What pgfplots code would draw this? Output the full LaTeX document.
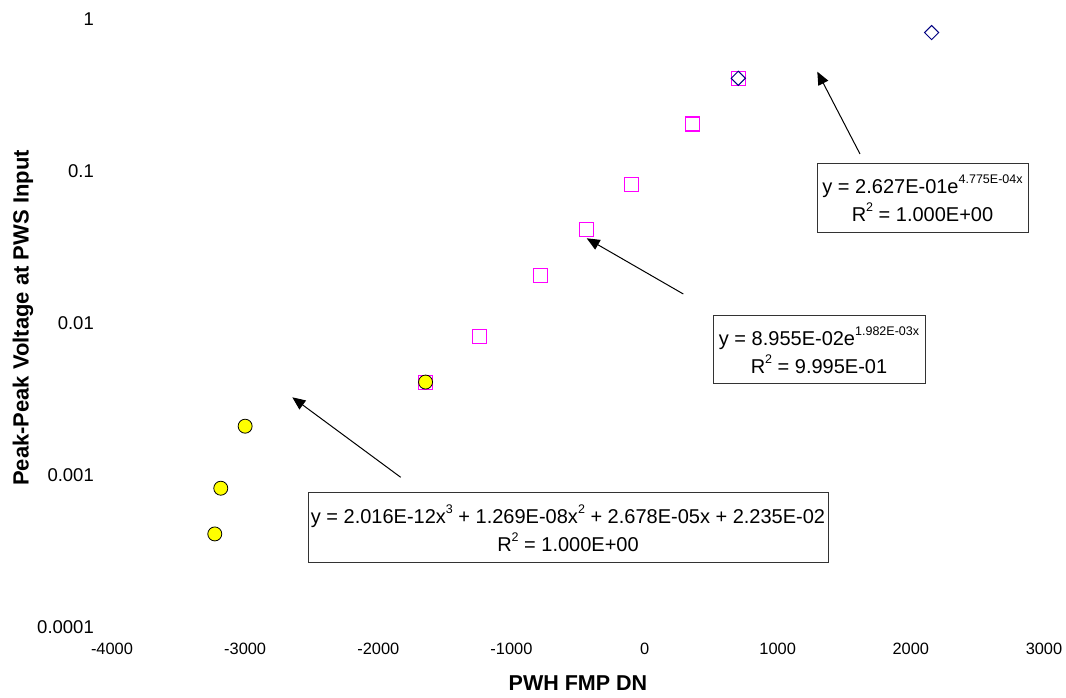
\documentclass[border=0pt]{standalone}
\usepackage{fontspec}
\setmainfont{Liberation Sans}
\usepackage{pgfplots}
\pgfplotsset{compat=1.18}
\usetikzlibrary{arrows.meta}
\definecolor{mag}{RGB}{255,0,255}
\definecolor{navyb}{RGB}{0,0,128}
\definecolor{yel}{RGB}{255,255,0}
\newcommand\sups[1]{\raisebox{0.5em}{\fontsize{12.5}{12.5}\selectfont #1}}

\pgfplotstableread{
x y
-1645 0.0041
-1242 0.00819
-783 0.0205
-435 0.0412
-97 0.0824
358 0.205
704 0.41
}\squares

\pgfplotstableread{
x y
-3228 0.00041
-3183 0.00082
-3000 0.0021
-1645 0.0041
}\circles

\pgfplotstableread{
x y
704 0.41
2156 0.82
}\diamonds

\begin{document}
\begin{tikzpicture}[x=1pt,y=1pt]
\path[use as bounding box] (0,0) rectangle (1066,698);
\begin{axis}[
  at={(112pt,71pt)}, anchor=south west,
  scale only axis, width=932pt, height=607.5pt,
  xmin=-4000, xmax=3000, ymin=1e-4, ymax=1, ymode=log,
  axis line style={draw=none}, tick style={draw=none},
  major tick length=0pt, minor tick length=0pt,
  xtick={-4000,-3000,-2000,-1000,0,1000,2000,3000},
  xticklabels={-4000,-3000,-2000,-1000,0,1000,2000,3000},
  ytick={1e-4,1e-3,1e-2,1e-1,1},
  yticklabels={0.0001,0.001,0.01,0.1,1},
  xticklabel style={font=\fontsize{16.4}{18}\selectfont, inner sep=0pt, yshift=-16pt, anchor=north},
  yticklabel style={font=\fontsize{18.5}{20}\selectfont, inner sep=0pt, xshift=-18pt, anchor=east},
  clip=false,
]
\addplot[only marks, mark=square, mark size=7pt, mag, mark options={line width=1.1pt}] table[x=x,y=y] {\squares};
\addplot[only marks, mark=*, mark size=7pt, mark options={draw=black, fill=yel, line width=0.8pt}] table[x=x,y=y] {\circles};
\addplot[only marks, mark=square, mark size=5pt, navyb, mark options={rotate=45, line width=1pt}] table[x=x,y=y] {\diamonds};
\end{axis}

% axis titles
\node[font=\bfseries\fontsize{21.5}{24}\selectfont] at (578,15) {PWH FMP DN};
\node[font=\bfseries\fontsize{22}{24}\selectfont, rotate=90] at (23,380) {Peak-Peak Voltage at PWS Input};

% arrows
\draw[line width=1pt, -{Triangle[length=13pt,width=11pt]}] (400.7,220.7) -- (292.3,300.7);
\draw[line width=1pt, -{Triangle[length=13pt,width=11pt]}] (683.3,404) -- (586.7,459.7);
\draw[line width=1pt, -{Triangle[length=13pt,width=11pt]}] (860,544) -- (817.3,626.3);

% trendline boxes
\node[draw=black!80, line width=1pt, minimum width=520pt, minimum height=70pt, align=center, inner sep=0pt, font=\fontsize{20}{28}\selectfont] at (568,170)
  {y = 2.016E-12x\sups{3} + 1.269E-08x\sups{2} + 2.678E-05x + 2.235E-02\\R\sups{2} = 1.000E+00};
\node[draw=black!80, line width=1pt, minimum width=212pt, minimum height=68pt, align=center, inner sep=0pt, font=\fontsize{20}{28}\selectfont] at (819,348)
  {y = 8.955E-02e\sups{1.982E-03x}\\R\sups{2} = 9.995E-01};
\node[draw=black!80, line width=1pt, minimum width=211pt, minimum height=69pt, align=center, inner sep=0pt, font=\fontsize{20}{28}\selectfont] at (922.5,499.5)
  {y = 2.627E-01e\sups{4.775E-04x}\\R\sups{2} = 1.000E+00};
\end{tikzpicture}
\end{document}
